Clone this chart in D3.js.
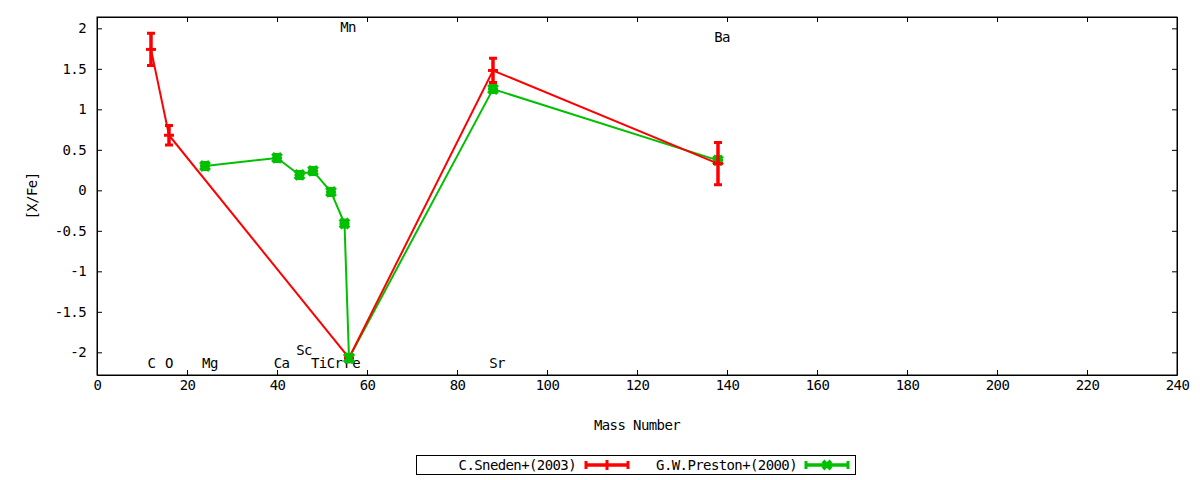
<!DOCTYPE html>
<html>
<head>
    <meta charset="utf-8">
    <title>[X/Fe] vs Mass Number</title>
    <script src="https://cdnjs.cloudflare.com/ajax/libs/d3/7.8.5/d3.min.js"></script>
    <style>
        body { margin: 0; background: #fff; }
        text { font-family: "DejaVu Sans Mono", monospace; font-size: 14px; letter-spacing: -0.6px; fill: #000; }
        .axis path, .axis line { stroke: #000; stroke-width: 1; }
        .axis text { font-family: "DejaVu Sans Mono", monospace; font-size: 14px; letter-spacing: -0.6px; fill: #000; }
    </style>
</head>
<body>
<div id="chart"></div>
<script>
    // Sneden et al. (2003)
    const snedenMass = [12, 16, 56, 88, 138];
    const snedenVal  = [1.74, 0.68, -2.07, 1.48, 0.33];
    const snedenErr  = [0.2, 0.12, 0, 0.15, 0.26];

    // Preston et al. (2000)
    const prestonMass = [24, 40, 45, 48, 52, 55, 56, 88, 138];
    const prestonVal  = [0.30, 0.40, 0.19, 0.24, -0.02, -0.41, -2.07, 1.25, 0.37];

    // element labels (data coordinates)
    const labelText = ['C', 'O', 'Mg', 'Ca', 'Sc', 'Ti', 'Cr', 'Fe', 'Mn', 'Sr', 'Ba'];
    const labelX    = [12.1, 16, 25.1, 41, 46, 49.3, 52.8, 56.7, 55.8, 88.9, 138.9];
    const labelY    = [-2.13, -2.13, -2.13, -2.13, -1.97, -2.13, -2.13, -2.13, 2.01, -2.13, 1.89];

    const xTicks = d3.range(0, 241, 20);
    const yTicks = [-2, -1.5, -1, -0.5, 0, 0.5, 1, 1.5, 2];

    const W = 1200, H = 480;
    const plot = { left: 97, right: 1177, top: 17, bottom: 375 };

    const svg = d3.select('#chart').append('svg')
        .attr('width', W).attr('height', H);

    const x = d3.scaleLinear().domain([0, 240]).range([plot.left, plot.right]);
    const y = d3.scaleLinear().domain([-2.28, 2.14]).range([plot.bottom, plot.top]);

    const fmtY = d => String(d);   // plain hyphen-minus, like gnuplot

    // axes with inward ticks, mirrored on top/right
    svg.append('g').attr('class', 'axis')
        .attr('transform', `translate(0,${plot.bottom})`)
        .call(d3.axisBottom(x).tickValues(xTicks).tickSize(-5).tickPadding(5).tickSizeOuter(0));
    svg.append('g').attr('class', 'axis')
        .attr('transform', `translate(0,${plot.top})`)
        .call(d3.axisTop(x).tickValues(xTicks).tickSize(-5).tickFormat('').tickSizeOuter(0));
    svg.append('g').attr('class', 'axis')
        .attr('transform', `translate(${plot.left},0)`)
        .call(d3.axisLeft(y).tickValues(yTicks).tickSize(-5).tickPadding(11).tickFormat(fmtY).tickSizeOuter(0));
    svg.append('g').attr('class', 'axis')
        .attr('transform', `translate(${plot.right},0)`)
        .call(d3.axisRight(y).tickValues(yTicks).tickSize(-5).tickFormat('').tickSizeOuter(0));

    svg.append('rect')
        .attr('x', plot.left).attr('y', plot.top)
        .attr('width', plot.right - plot.left).attr('height', plot.bottom - plot.top)
        .attr('fill', 'none').attr('stroke', '#000').attr('stroke-width', 1);

    // axis titles
    svg.append('text')
        .attr('transform', `translate(37,${(plot.top + plot.bottom) / 2}) rotate(-90)`)
        .attr('text-anchor', 'middle')
        .text('[X/Fe]');
    svg.append('text')
        .attr('x', (plot.left + plot.right) / 2).attr('y', 430)
        .attr('text-anchor', 'middle')
        .text('Mass Number');

    // element labels
    svg.selectAll('.el-label')
        .data(labelText)
        .enter().append('text')
        .attr('class', 'el-label')
        .attr('x', (d, i) => x(labelX[i]))
        .attr('y', (d, i) => y(labelY[i]))
        .attr('dy', '0.35em')
        .attr('text-anchor', 'middle')
        .text(d => d);

    const red = '#ff0000', green = '#00c000';
    const line = d3.line().x(d => x(d[0])).y(d => y(d[1]));

    const preston = prestonMass.map((m, i) => [m, prestonVal[i]]);
    const sneden = snedenMass.map((m, i) => [m, snedenVal[i], snedenErr[i]]);

    // green series
    svg.append('path').datum(preston)
        .attr('d', line).attr('fill', 'none')
        .attr('stroke', green).attr('stroke-width', 2);

    const gMarks = svg.selectAll('.g-mark').data(preston).enter().append('g')
        .attr('transform', d => `translate(${x(d[0])},${y(d[1])})`);
    gMarks.append('path')
        .attr('d', 'M-4.5,-4.5L4.5,4.5M-4.5,4.5L4.5,-4.5')
        .attr('stroke', green).attr('stroke-width', 4);
    gMarks.append('path')
        .attr('d', 'M-5,0L5,0M-3,-3.5L3,-3.5M-3,3.5L3,3.5')
        .attr('stroke', green).attr('stroke-width', 3);

    // red series
    svg.append('path').datum(sneden)
        .attr('d', line).attr('fill', 'none')
        .attr('stroke', red).attr('stroke-width', 2);

    const rMarks = svg.selectAll('.r-mark').data(sneden).enter().append('g');
    rMarks.filter(d => d[2] > 0).append('line')
        .attr('x1', d => x(d[0])).attr('x2', d => x(d[0]))
        .attr('y1', d => y(d[1] - d[2])).attr('y2', d => y(d[1] + d[2]))
        .attr('stroke', red).attr('stroke-width', 3.5);
    rMarks.filter(d => d[2] > 0).append('path')
        .attr('d', d => {
            const cx = x(d[0]);
            return `M${cx - 4},${y(d[1] - d[2])}H${cx + 4}M${cx - 4},${y(d[1] + d[2])}H${cx + 4}`;
        })
        .attr('stroke', red).attr('stroke-width', 3);
    rMarks.append('path')
        .attr('d', d => `M${x(d[0]) - 5},${y(d[1])}H${x(d[0]) + 5}`)
        .attr('stroke', red).attr('stroke-width', 3);

    // re-draw the Fe green marker on top, as in the reference
    svg.append('g').selectAll('path').data(preston.filter(d => d[0] === 56)).enter().append('path')
        .attr('transform', d => `translate(${x(d[0])},${y(d[1])})`)
        .attr('d', 'M-4.5,-4.5L4.5,4.5M-4.5,4.5L4.5,-4.5')
        .attr('stroke', green).attr('stroke-width', 4);

    // legend
    const lg = svg.append('g');
    lg.append('rect')
        .attr('x', 416.5).attr('y', 455.5).attr('width', 439).attr('height', 19)
        .attr('fill', '#fff').attr('stroke', '#000');
    const legendItems = [
        { label: 'C.Sneden+(2003)', color: red, textEnd: 576, x0: 586, x1: 628, mark: 'plus' },
        { label: 'G.W.Preston+(2000)', color: green, textEnd: 797, x0: 806, x1: 848, mark: 'x' }
    ];
    legendItems.forEach(it => {
        const ly = 465;
        lg.append('text').attr('x', it.textEnd).attr('y', ly).attr('dy', '0.35em')
            .attr('text-anchor', 'end').text(it.label);
        lg.append('line').attr('x1', it.x0).attr('x2', it.x1).attr('y1', ly).attr('y2', ly)
            .attr('stroke', it.color).attr('stroke-width', 3.5);
        lg.append('path')
            .attr('d', `M${it.x0},${ly - 4}V${ly + 4}M${it.x1},${ly - 4}V${ly + 4}`)
            .attr('stroke', it.color).attr('stroke-width', 3);
        const mx = (it.x0 + it.x1) / 2;
        if (it.mark === 'plus') {
            lg.append('path').attr('d', `M${mx},${ly - 5}V${ly + 5}`)
                .attr('stroke', it.color).attr('stroke-width', 3);
        } else {
            lg.append('path').attr('d', `M${mx - 4},${ly - 4}L${mx + 4},${ly + 4}M${mx - 4},${ly + 4}L${mx + 4},${ly - 4}`)
                .attr('stroke', it.color).attr('stroke-width', 4);
        }
    });
</script>
</body>
</html>
